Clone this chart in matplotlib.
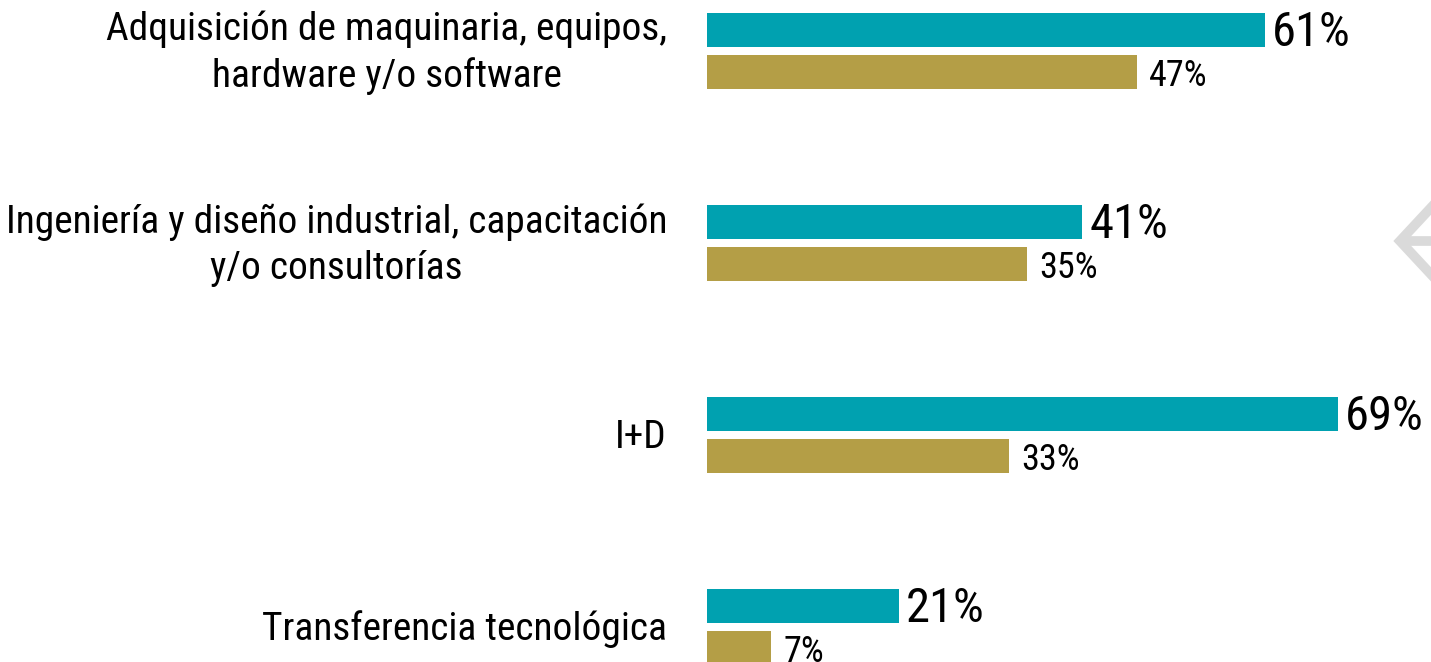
import matplotlib
matplotlib.use("Agg")
import matplotlib.pyplot as plt
from matplotlib.lines import Line2D
from matplotlib import font_manager

categories = [
    "Adquisición de maquinaria, equipos,\nhardware y/o software",
    "Ingeniería y diseño industrial, capacitación\ny/o consultorías",
    "I+D",
    "Transferencia tecnológica",
]
series_a = [61, 41, 69, 21]   # teal
series_b = [47, 35, 33, 7]    # gold
labels_a = ["61%", "41%", "69%", "21%"]
labels_b = ["47%", "35%", "33%", "7%"]

teal = "#00A1B0"
gold = "#B49E46"

names = {f.name for f in font_manager.fontManager.ttflist}
narrow = [f for f in ["Liberation Sans Narrow", "Arial Narrow", "Roboto Condensed"] if f in names]
fam = narrow + [f for f in ["Liberation Sans"] if f in names] + ["DejaVu Sans"]
plt.rcParams["font.family"] = fam
cat_size = 28.4 if narrow else 25
cat_ls = 1.3 if narrow else 1.4

W, H = 1431, 662
fig = plt.figure(figsize=(W / 100, H / 100), dpi=100)
x0 = 707
ax = fig.add_axes([x0 / W, 0, (W - x0) / W, 1])
px_per = 9.15
ax.set_xlim(0, (W - x0) / px_per)
sp = 192.0
ax.set_ylim((H - 51) / sp, -51 / sp)
ax.axis("off")

bh = 34 / sp
off = 21 / sp
ys = list(range(len(categories)))
ax.barh([y - off for y in ys], series_a, height=bh, color=teal)
ax.barh([y + off for y in ys], series_b, height=bh, color=gold)

for y, v, t in zip(ys, series_a, labels_a):
    ax.annotate(t, (v, y - off), xytext=(7, -3), textcoords="offset pixels",
                va="center", ha="left", fontsize=35, color="black")
for y, v, t in zip(ys, series_b, labels_b):
    ax.annotate(t, (v, y + off), xytext=(12, -4), textcoords="offset pixels",
                va="center", ha="left", fontsize=26, color="black")

for y, c in zip(ys, categories):
    ax.annotate(c, (0, y), xytext=(-40, -2), textcoords="offset pixels",
                va="center", ha="right", multialignment="center",
                fontsize=cat_size, color="black", linespacing=cat_ls)

# decorative chevron at right edge
def fx(p):
    return p / W
def fy(p):
    return 1 - p / H
col = "#DADADA"
fig.add_artist(Line2D([fx(1440), fx(1400), fx(1440)], [fy(198), fy(241), fy(284)],
                      color=col, lw=7, solid_joinstyle="miter"))
fig.add_artist(Line2D([fx(1403), fx(1440)], [fy(241), fy(241)], color=col, lw=7))

fig.savefig("out.png", dpi=100)
